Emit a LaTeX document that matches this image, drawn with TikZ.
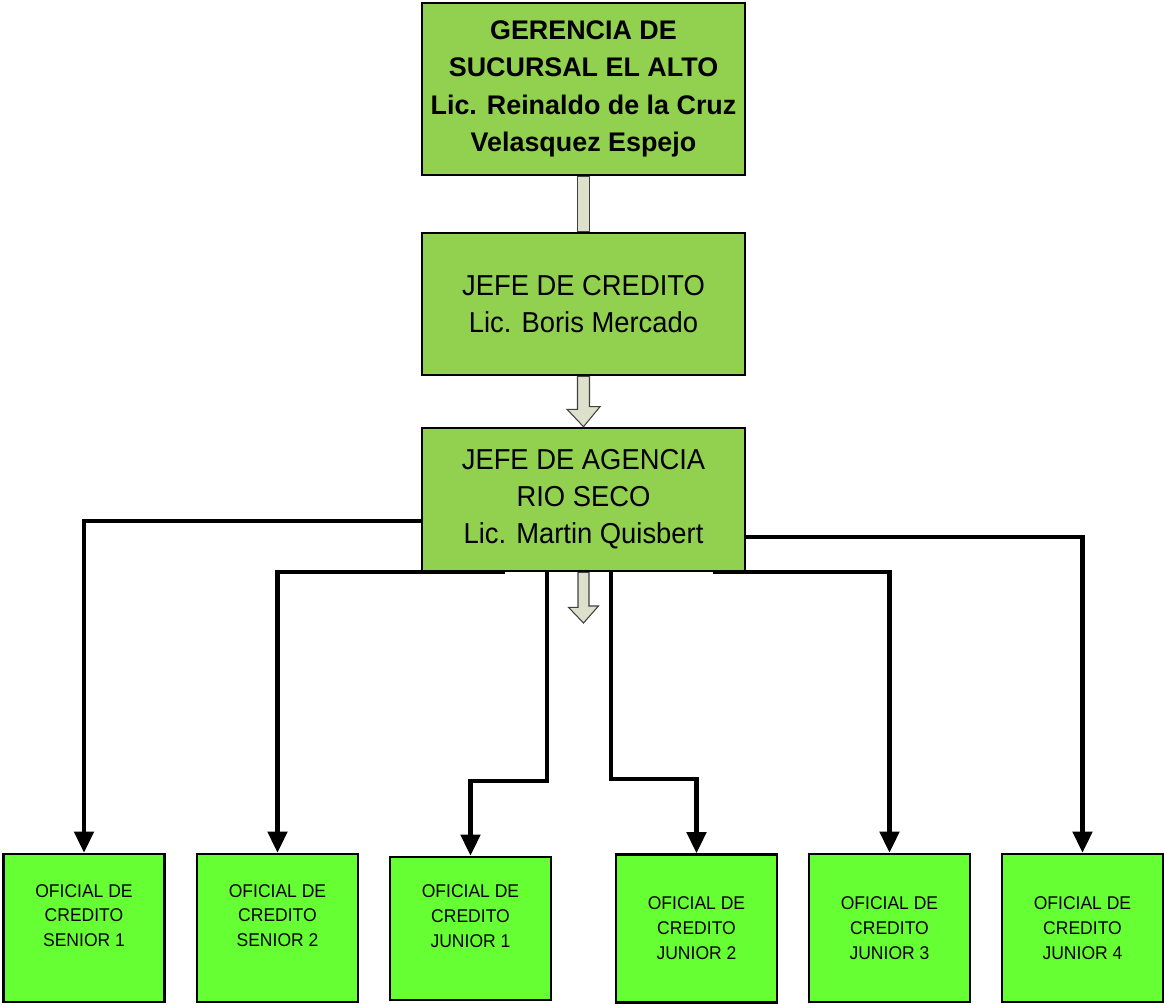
\documentclass[tikz,border=0pt]{standalone}
\usepackage{fontspec}
\setmainfont[FakeStretch=0.95]{Liberation Sans}
\newfontfamily\headfont{Liberation Sans}
\usetikzlibrary{arrows.meta}

\definecolor{jefegreen}{HTML}{92D050}
\definecolor{oficialgreen}{HTML}{66FF33}
\definecolor{flecha}{HTML}{DDE0CB}

\begin{document}
\begin{tikzpicture}[x=0.02cm, y=-0.02cm, >={Triangle[length=12pt,width=11pt]}, every node/.style={align=center}]
    \tikzstyle{jefe}=[draw, line width=1.5pt, fill=jefegreen, minimum width=6.46cm, inner sep=0pt]
    \tikzstyle{oficial}=[draw, line width=1.5pt, fill=oficialgreen, minimum width=3.22cm, minimum height=2.96cm, inner sep=0pt, font=\fontsize{10.5}{14.2}\selectfont]
    \tikzstyle{linea}=[line width=2.3pt]
    \tikzstyle{flechabloque}=[draw=black!75, fill=flecha, line width=0.6pt]

    \useasboundingbox (0,0) rectangle (1164,1004);

    \node[jefe, minimum height=3.44cm, font=\headfont\bfseries\fontsize{15.3}{21.3}\selectfont] (gerencia) at (583.5,89) {GERENCIA DE\\SUCURSAL EL ALTO\\Lic. Reinaldo de la Cruz\\Velasquez Espejo};
    \node[jefe, minimum height=2.84cm, font=\fontsize{16.4}{21}\selectfont] (credito) at (583.5,304) {JEFE DE CREDITO\\Lic. Boris Mercado};
    \node[jefe, minimum height=2.86cm, font=\fontsize{16.4}{21}\selectfont] (agencia) at (583.5,499.5) {JEFE DE AGENCIA\\RIO SECO\\Lic. Martin Quisbert};

    % block arrows between the heads
    \draw[flechabloque] ([xshift=-0.12cm]gerencia.south) rectangle ([xshift=0.12cm]credito.north);
    \draw[flechabloque] ([xshift=-0.12cm]credito.south) -- ++(0,33) -- ++(-10.5,0) -- (agencia.north)
        -- ++(16.5,-20) -- ++(-10.5,0) -- ([xshift=0.12cm]credito.south) -- cycle;
    \coordinate (punta) at (583.5,623);
    \draw[flechabloque] ([xshift=-0.11cm]agencia.south) -- ++(0,35) -- ++(-9.5,0) -- (punta)
        -- ++(15,-17) -- ++(-9.5,0) -- ([xshift=0.11cm]agencia.south) -- cycle;

    \node[oficial] (senior1) at (84,928) {OFICIAL DE\\CREDITO\\SENIOR 1\\\mbox{}};
    \node[oficial] (senior2) at (277.5,928) {OFICIAL DE\\CREDITO\\SENIOR 2\\\mbox{}};
    \node[oficial, minimum height=2.86cm] (junior1) at (470.5,928.5) {OFICIAL DE\\CREDITO\\JUNIOR 1\\\mbox{}};
    \node[oficial] (junior2) at (696.5,928.5) {OFICIAL DE\\CREDITO\\JUNIOR 2};
    \node[oficial] (junior3) at (889.5,928) {OFICIAL DE\\CREDITO\\JUNIOR 3};
    \node[oficial] (junior4) at (1082.5,928) {OFICIAL DE\\CREDITO\\JUNIOR 4};

    % lines to the credit officers
    \draw[linea, ->] ([yshift=-0.43cm]agencia.west) -| (senior1.north);
    \draw[linea, ->] ([xshift=-1.57cm]agencia.south) -| (senior2.north);
    \draw[linea, ->] ([xshift=-0.73cm]agencia.south) -- ++(0,209) -| (junior1.north);
    \draw[linea, ->] ([xshift=0.55cm]agencia.south) -- ++(0,207) -| (junior2.north);
    \draw[linea, ->] ([xshift=2.59cm]agencia.south) -| (junior3.north);
    \draw[linea, ->] ([yshift=-0.75cm]agencia.east) -| (junior4.north);
\end{tikzpicture}
\end{document}
